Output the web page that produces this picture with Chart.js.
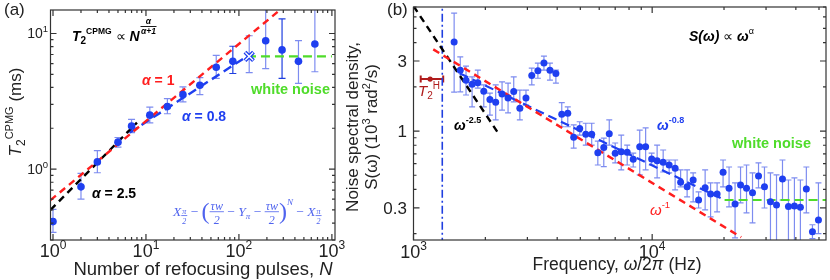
<!DOCTYPE html>
<html>
<head>
<meta charset="utf-8">
<script src="https://cdn.jsdelivr.net/npm/chart.js@4.4.1/dist/chart.umd.min.js"></script>
<style>
  body { margin: 0; background: #fff; width: 830px; height: 280px; position: relative; overflow: hidden; }
  #ca { position: absolute; left: 0; top: 0; }
  #cb { position: absolute; left: 340px; top: 0; }
</style>
</head>
<body>
<canvas id="ca" width="350" height="280"></canvas>
<canvas id="cb" width="490" height="280"></canvas>
<script>
// ---- panel (a): T2 CPMG vs number of pulses ----
const pulsesN = [1, 2, 3, 5, 7, 11, 17, 25, 38, 57, 86, 129, 194, 291, 437, 656];
const t2Cpmg = [0.41, 0.74, 1.13, 1.58, 2.08, 2.50, 2.89, 3.54, 4.15, 5.64, 6.23, 6.78, 8.85, 7.57, 6.23, 8.36];
const t2Low = [0.342, 0.60, 0.94, 1.45, 1.86, 2.19, 2.56, 3.13, 3.54, 4.67, 5.07, 5.15, 5.51, 4.67, 4.29, 5.22];
const t2High = [0.505, 0.93, 1.37, 1.71, 2.33, 2.86, 3.31, 4.04, 4.72, 6.89, 8.05, 9.62, 16, 12.8, 8.85, 16];
const crossIndex = 11; // the point drawn as an X
const darkBars = [10, 13];
const alpha1Fit = [{ x: 0.94, y: 0.59 }, { x: 276, y: 14.9 }];
const alpha25Fit = [{ x: 0.94, y: 0.50 }, { x: 8.0, y: 2.2 }];
const alpha08Fit = [{ x: 6.7, y: 1.86 }, { x: 122, y: 6.78 }];
const whiteFitA = [{ x: 122, y: 6.78 }, { x: 1000, y: 6.78 }];
const xTickExpA = [0, 1, 2, 3];
const yTickExpA = [0, 1];

// ---- panel (b): noise spectral density ----
const freqHz = [1480, 1570, 1660, 1760, 1860, 1970, 2090, 2210, 2350, 2490, 2630, 2790, 2960, 3130, 3320, 3520,
  3730, 3950, 4180, 4430, 4690, 4970, 5270, 5580, 5920, 6270, 6610, 7000, 7420, 7860, 8330, 8870, 9390, 9950,
  10490, 11120, 11780, 12480, 13160, 14010, 14850, 15650, 16670, 17570, 18710, 19820, 21000, 22250, 23460,
  24850, 26330, 27900, 29550, 31310, 33190, 35160, 37240, 39450, 41790, 44260, 46940, 49740];
const noiseS = [4.05, 2.60, 2.22, 2.08, 2.13, 1.87, 1.64, 1.57, 1.79, 1.68, 1.86, 1.43, 1.68, 2.39, 2.57, 2.91,
  2.60, 2.47, 1.30, 1.32, 0.906, 1.04, 0.95, 0.95, 0.712, 0.772, 0.96, 0.705, 0.723, 0.716, 0.642, 0.782, 0.782,
  0.645, 0.628, 0.612, 0.587, 0.557, 0.448, 0.418, 0.464, 0.339, 0.411, 0.373, 0.373, 0.524, 0.408, 0.319, 0.429,
  0.408, 0.380, 0.494, 0.418, 0.330, 0.314, 0.471, 0.306, 0.309, 0.303, 0.403, 0.206, 0.248];
const noiseLow = [1.84, 1.85, 1.76, 1.46, 1.96, 1.46, 1.285, 1.19, 1.39, 1.33, 1.58, 1.19, 1.50, 2.06, 2.29, 2.60,
  2.22, 2.12, 1.07, 1.07, 0.766, 0.939, 0.803, 0.803, 0.587, 0.572, 0.803, 0.606, 0.543, 0.587, 0.569, 0.502, 0.543,
  0.587, 0.479, 0.526, 0.518, 0.397, 0.416, 0.356, 0.329, 0.299, 0.290, 0.260, 0.281, 0.416, 0.304, 0.187, 0.324,
  0.277, 0.237, 0.410, 0.299, 0.17, 0.17, 0.339, 0.17, 0.17, 0.17, 0.277, 0.185, 0.20];
const noiseHigh = [6.35, 3.20, 2.77, 2.34, 2.60, 2.06, 1.81, 2.06, 2.16, 2.12, 2.34, 1.90, 1.90, 2.68, 2.90, 3.24,
  2.90, 2.60, 1.56, 1.46, 1.10, 1.157, 1.13, 1.13, 0.855, 0.896, 1.19, 0.829, 0.939, 0.803, 0.708, 1.016, 1.05,
  0.708, 0.803, 0.743, 0.635, 0.635, 0.543, 0.543, 0.518, 0.385, 0.543, 0.443, 0.443, 0.635, 0.569, 0.443, 0.569,
  0.587, 0.518, 0.606, 0.569, 0.518, 0.502, 0.635, 0.464, 0.479, 0.464, 0.569, 0.23, 0.443];
const omega25Fit = [{ x: 1000, y: 7.1 }, { x: 2242, y: 0.99 }];
const omega1Fit = [{ x: 1210, y: 3.60 }, { x: 23600, y: 0.189 }];
const omega08Fit = [{ x: 1565, y: 2.47 }, { x: 20110, y: 0.339 }];
const whiteFitB = [{ x: 20110, y: 0.339 }, { x: 53500, y: 0.339 }];
const cutoffFreq = 1320;
const t2Hahn = { x: 1174, y: 2.26, lo: 1072, hi: 1332 };
const xTickExpB = [3, 4];
const yTickB = ['0.3', '1', '3'];

// colours and fonts
const FONT = '"Liberation Sans", Arial, sans-serif';
const SERIF = '"Liberation Serif", "DejaVu Serif", serif';
const BLUE = '#1f3ff0';
const BAR_LIGHT = '#7d8cf0';
const BAR_DARK = '#1f3fe0';
const RED = '#ff1e1e';
const GREEN = '#4fdc2a';
const DARKRED = '#b01c1c';
const AXIS = '#333';

function font(size, style) {
  return (style ? style + ' ' : '') + size + 'px ' + FONT;
}

// draw a row of text pieces (for sub/superscripts); returns end x
function rich(ctx, x, y, parts, align) {
  let w = 0;
  parts.forEach((p) => {
    ctx.font = p.f;
    p.w = ctx.measureText(p.t).width;
    w += p.w + (p.dx || 0);
  });
  let cx = align === 'center' ? x - w / 2 : align === 'right' ? x - w : x;
  ctx.textAlign = 'left';
  parts.forEach((p) => {
    ctx.font = p.f;
    if (p.c) ctx.fillStyle = p.c;
    cx += p.dx || 0;
    ctx.fillText(p.t, cx, y + (p.dy || 0));
    cx += p.w;
  });
  return cx;
}

function logTicks(min, max) {
  const out = [];
  for (let e = Math.floor(Math.log10(min)); e <= Math.ceil(Math.log10(max)); e++) {
    for (let m = 1; m < 10; m++) {
      const v = m * Math.pow(10, e);
      if (v >= min && v <= max) out.push({ v, major: m === 1 });
    }
  }
  return out;
}

// box + inward ticks on all four sides
function drawFrame(chart, yMajor) {
  const { ctx, chartArea: a, scales: { x, y } } = chart;
  ctx.save();
  ctx.strokeStyle = AXIS;
  ctx.lineWidth = 1.2;
  ctx.strokeRect(a.left, a.top, a.right - a.left, a.bottom - a.top);
  ctx.beginPath();
  logTicks(x.min, x.max).forEach((t) => {
    const px = x.getPixelForValue(t.v);
    const L = t.major ? 6 : 3;
    ctx.moveTo(px, a.bottom); ctx.lineTo(px, a.bottom - L);
    ctx.moveTo(px, a.top); ctx.lineTo(px, a.top + L);
  });
  logTicks(y.min, y.max).forEach((t) => {
    const py = y.getPixelForValue(t.v);
    const major = yMajor ? yMajor.includes(+t.v.toPrecision(3)) : t.major;
    const L = major ? 6 : 3;
    ctx.moveTo(a.left, py); ctx.lineTo(a.left + L, py);
    ctx.moveTo(a.right, py); ctx.lineTo(a.right - L, py);
  });
  ctx.stroke();
  ctx.restore();
}

function errorBars(chart, xs, lows, highs, colorOf, cap) {
  const { ctx, chartArea: a, scales: { x, y } } = chart;
  ctx.save();
  ctx.beginPath();
  ctx.rect(a.left, a.top, a.right - a.left, a.bottom - a.top);
  ctx.clip();
  ctx.lineWidth = 1.2;
  xs.forEach((v, i) => {
    const px = x.getPixelForValue(v);
    const p1 = y.getPixelForValue(lows[i]);
    const p2 = y.getPixelForValue(highs[i]);
    ctx.strokeStyle = colorOf(i);
    ctx.beginPath();
    ctx.moveTo(px, p1); ctx.lineTo(px, p2);
    ctx.moveTo(px - cap / 2, p1); ctx.lineTo(px + cap / 2, p1);
    ctx.moveTo(px - cap / 2, p2); ctx.lineTo(px + cap / 2, p2);
    ctx.stroke();
  });
  ctx.restore();
}

// the CPMG pulse sequence written under the data of panel (a)
function drawSequence(ctx, x, y) {
  const it = (s) => 'italic ' + s + 'px ' + SERIF;
  const rm = (s) => s + 'px ' + SERIF;
  let cx = x;
  ctx.textAlign = 'left';
  const put = (t, f, dy) => { ctx.font = f; ctx.fillText(t, cx, y + (dy || 0)); cx += ctx.measureText(t).width; };
  const frac = (num, den, size, dy, f) => {
    ctx.font = f(size);
    const w = Math.max(ctx.measureText(num).width, ctx.measureText(den).width) + 2;
    ctx.textAlign = 'center';
    ctx.fillText(num, cx + w / 2, y + dy - size * 0.35);
    ctx.fillText(den, cx + w / 2, y + dy + size * 0.85);
    ctx.fillRect(cx, y + dy - size * 0.22, w, 0.8);
    ctx.textAlign = 'left';
    cx += w;
  };
  put('X', it(13.5));
  frac('π', '2', 8, 1, it);
  put(' − ', rm(13.5));
  put('(', rm(24), 3);
  frac('τw', '2', 12, -2, it);
  put(' − ', rm(13.5));
  put('Y', it(13.5));
  put('π', it(9), 3);
  put(' − ', rm(13.5));
  frac('τw', '2', 12, -2, it);
  put(')', rm(24), 3);
  put('N', it(9), -11);
  put(' − ', rm(13.5));
  put('X', it(13.5));
  frac('π', '2', 8, 1, it);
}

const panelA = {
  id: 'panelA',
  beforeDatasetsDraw(chart) {
    errorBars(chart, pulsesN, t2Low, t2High, (i) => (darkBars.includes(i) ? BAR_DARK : BAR_LIGHT), 7);
  },
  afterDraw(chart) {
    const { ctx, scales: { x, y } } = chart;
    drawFrame(chart);
    ctx.save();
    ctx.textBaseline = 'alphabetic';
    ctx.fillStyle = '#222';
    xTickExpA.forEach((e) => {
      rich(ctx, x.getPixelForValue(Math.pow(10, e)), 257,
        [{ t: '10', f: font(18) }, { t: String(e), f: font(12), dy: -8 }], 'center');
    });
    yTickExpA.forEach((e) => {
      rich(ctx, 48, y.getPixelForValue(Math.pow(10, e)) + 5,
        [{ t: '10', f: font(14) }, { t: String(e), f: font(9.5), dy: -6 }], 'right');
    });
    rich(ctx, 4, 15, [{ t: '(a)', f: font(17) }], 'left');
    rich(ctx, 203, 275, [
      { t: 'Number of refocusing pulses, ', f: font(18.5) },
      { t: 'N', f: font(18.5, 'italic') },
    ], 'center');
    ctx.save();
    ctx.translate(21, 112);
    ctx.rotate(-Math.PI / 2);
    rich(ctx, 0, 0, [
      { t: 'T', f: font(17, 'italic') },
      { t: '2', f: font(12), dy: 4 },
      { t: 'CPMG', f: font(11), dy: -8 },
      { t: ' (ms)', f: font(17) },
    ], 'center');
    ctx.restore();

    // annotations
    ctx.fillStyle = '#000';
    const endN = rich(ctx, 72, 41, [
      { t: 'T', f: font(14, 'italic bold') },
      { t: '2', f: font(10, 'bold'), dy: 3 },
      { t: 'CPMG', f: font(8.5, 'bold'), dy: -7 },
      { t: ' ∝ ', f: font(14) },
      { t: 'N', f: font(14, 'italic bold') },
    ], 'left');
    ctx.font = font(8.5, 'italic bold');
    ctx.textAlign = 'center';
    ctx.fillText('α', endN + 9, 24);
    ctx.fillRect(endN + 1, 26, 16, 0.9);
    ctx.fillText('α+1', endN + 9, 34);
    rich(ctx, 142, 85, [{ t: 'α', f: font(14, 'italic bold'), c: RED }, { t: ' = 1', f: font(14, 'bold') }], 'left');
    rich(ctx, 182, 120.5, [{ t: 'α', f: font(14, 'italic bold'), c: BLUE }, { t: ' = 0.8', f: font(14, 'bold') }], 'left');
    rich(ctx, 92, 198, [{ t: 'α', f: font(14, 'italic bold'), c: '#000' }, { t: ' = 2.5', f: font(14, 'bold') }], 'left');
    rich(ctx, 251, 94, [{ t: 'white noise', f: font(14.5, 'bold'), c: GREEN }], 'left');
    ctx.fillStyle = '#4f63ee';
    drawSequence(ctx, 173, 216);
    ctx.restore();
  },
};

const panelB = {
  id: 'panelB',
  beforeDatasetsDraw(chart) {
    errorBars(chart, freqHz, noiseLow, noiseHigh, () => BAR_LIGHT, 6);
    // horizontal bar of the Hahn-echo point
    const { ctx, scales: { x, y } } = chart;
    const py = y.getPixelForValue(t2Hahn.y);
    const p1 = x.getPixelForValue(t2Hahn.lo), p2 = x.getPixelForValue(t2Hahn.hi);
    ctx.save();
    ctx.strokeStyle = DARKRED;
    ctx.lineWidth = 2;
    ctx.beginPath();
    ctx.moveTo(p1, py); ctx.lineTo(p2, py);
    ctx.moveTo(p1, py - 3.5); ctx.lineTo(p1, py + 3.5);
    ctx.moveTo(p2, py - 3.5); ctx.lineTo(p2, py + 3.5);
    ctx.stroke();
    ctx.restore();
  },
  afterDraw(chart) {
    const { ctx, scales: { x, y } } = chart;
    drawFrame(chart, [0.3, 1, 3]);
    ctx.save();
    ctx.textBaseline = 'alphabetic';
    ctx.fillStyle = '#222';
    xTickExpB.forEach((e) => {
      rich(ctx, x.getPixelForValue(Math.pow(10, e)), 258,
        [{ t: '10', f: font(18) }, { t: String(e), f: font(12), dy: -8 }], 'center');
    });
    yTickB.forEach((t) => {
      rich(ctx, 67, y.getPixelForValue(+t) + 6, [{ t, f: font(17) }], 'right');
    });
    rich(ctx, 47, 15, [{ t: '(b)', f: font(17) }], 'left');
    rich(ctx, 277, 269.5, [
      { t: 'Frequency, ', f: font(17.5) },
      { t: 'ω', f: font(17.5, 'italic') },
      { t: '/2', f: font(17.5) },
      { t: 'π', f: font(17.5, 'italic') },
      { t: ' (Hz)', f: font(17.5) },
    ], 'center');
    ctx.save();
    ctx.translate(18, 127);
    ctx.rotate(-Math.PI / 2);
    rich(ctx, 0, 0, [{ t: 'Noise spectral density,', f: font(17) }], 'center');
    rich(ctx, 0, 19, [
      { t: 'S(', f: font(17) },
      { t: 'ω', f: font(17) },
      { t: ') (10', f: font(17) },
      { t: '3', f: font(11), dy: -7 },
      { t: ' rad', f: font(17) },
      { t: '2', f: font(11), dy: -7 },
      { t: '/s)', f: font(17) },
    ], 'center');
    ctx.restore();

    // annotations
    rich(ctx, 349, 41, [
      { t: 'S(ω)', f: font(14, 'italic bold'), c: '#000' },
      { t: ' ∝ ', f: font(14) },
      { t: 'ω', f: font(14, 'italic bold') },
      { t: 'α', f: font(9), dy: -7 },
    ], 'left');
    rich(ctx, 114, 130, [
      { t: 'ω', f: font(14, 'italic bold'), c: '#000' },
      { t: '-2.5', f: font(9, 'bold'), dy: -7 },
    ], 'left');
    rich(ctx, 317, 130, [
      { t: 'ω', f: font(14, 'italic bold'), c: BLUE },
      { t: '-0.8', f: font(9, 'bold'), dy: -7 },
    ], 'left');
    rich(ctx, 392, 148, [{ t: 'white noise', f: font(14.5, 'bold'), c: GREEN }], 'left');
    rich(ctx, 310, 215, [
      { t: 'ω', f: font(15, 'italic'), c: RED },
      { t: '-1', f: font(9.5), dy: -7 },
    ], 'left');
    rich(ctx, 78, 96, [
      { t: 'T', f: font(15, 'italic'), c: DARKRED },
      { t: '2', f: font(10), dy: 3 },
      { t: 'H', f: font(10), dy: -7 },
    ], 'left');
    ctx.restore();
  },
};

function fitLine(data, color, dash, width) {
  return { data, showLine: true, borderColor: color, borderDash: dash, borderWidth: width || 2.2,
    pointRadius: 0, fill: false, clip: 0 };
}

new Chart(document.getElementById('ca'), {
  type: 'scatter',
  plugins: [panelA],
  data: {
    datasets: [
      { data: [{ x: pulsesN[crossIndex], y: t2Cpmg[crossIndex] }], pointStyle: 'crossRot', pointRadius: 5.5,
        borderColor: '#fff', borderWidth: 1.3, backgroundColor: '#fff' },
      {
        data: pulsesN.map((n, i) => ({ x: n, y: t2Cpmg[i] })),
        pointStyle: (c) => (c.dataIndex === crossIndex ? 'crossRot' : 'circle'),
        pointRadius: (c) => (c.dataIndex === crossIndex ? 6 : 3.8),
        borderWidth: (c) => (c.dataIndex === crossIndex ? 4 : 0),
        backgroundColor: BLUE,
        borderColor: BLUE,
      },
      fitLine(alpha1Fit, RED, [7, 5], 2.4),
      fitLine(alpha25Fit, '#000', [7, 5], 2.4),
      fitLine(alpha08Fit, BLUE, [9, 5], 2.4),
      fitLine(whiteFitA, GREEN, [9, 5], 2.2),
    ],
  },
  options: {
    responsive: false,
    animation: false,
    layout: { padding: { left: 50.5, right: 15, top: 7, bottom: 40 } },
    plugins: { legend: { display: false }, tooltip: { enabled: false } },
    scales: {
      x: { type: 'logarithmic', min: 0.94, max: 1080, display: false },
      y: { type: 'logarithmic', min: 0.306, max: 14.9, display: false },
    },
  },
});

new Chart(document.getElementById('cb'), {
  type: 'scatter',
  plugins: [panelB],
  data: {
    datasets: [
      { data: [{ x: t2Hahn.x, y: t2Hahn.y }], pointRadius: 2.6, borderWidth: 0, backgroundColor: DARKRED },
      { data: freqHz.map((f, i) => ({ x: f, y: noiseS[i] })), pointRadius: 3.5, borderWidth: 0, backgroundColor: BLUE },
      fitLine(omega1Fit, RED, [7, 5], 2.4),
      fitLine(omega08Fit, BLUE, [9, 5], 2.2),
      fitLine(omega25Fit, '#000', [7, 5], 2.4),
      fitLine(whiteFitB, GREEN, [9, 5], 2.2),
      fitLine([{ x: cutoffFreq, y: 0.1 }, { x: cutoffFreq, y: 10 }], '#1f3fe0', [8, 3, 2, 3], 1.6),
    ],
  },
  options: {
    responsive: false,
    animation: false,
    layout: { padding: { left: 73.5, right: 3.5, top: 7, bottom: 40 } },
    plugins: { legend: { display: false }, tooltip: { enabled: false } },
    scales: {
      x: { type: 'logarithmic', min: 1000, max: 53500, display: false },
      y: { type: 'logarithmic', min: 0.181, max: 7.0, display: false },
    },
  },
});
</script>
</body>
</html>
